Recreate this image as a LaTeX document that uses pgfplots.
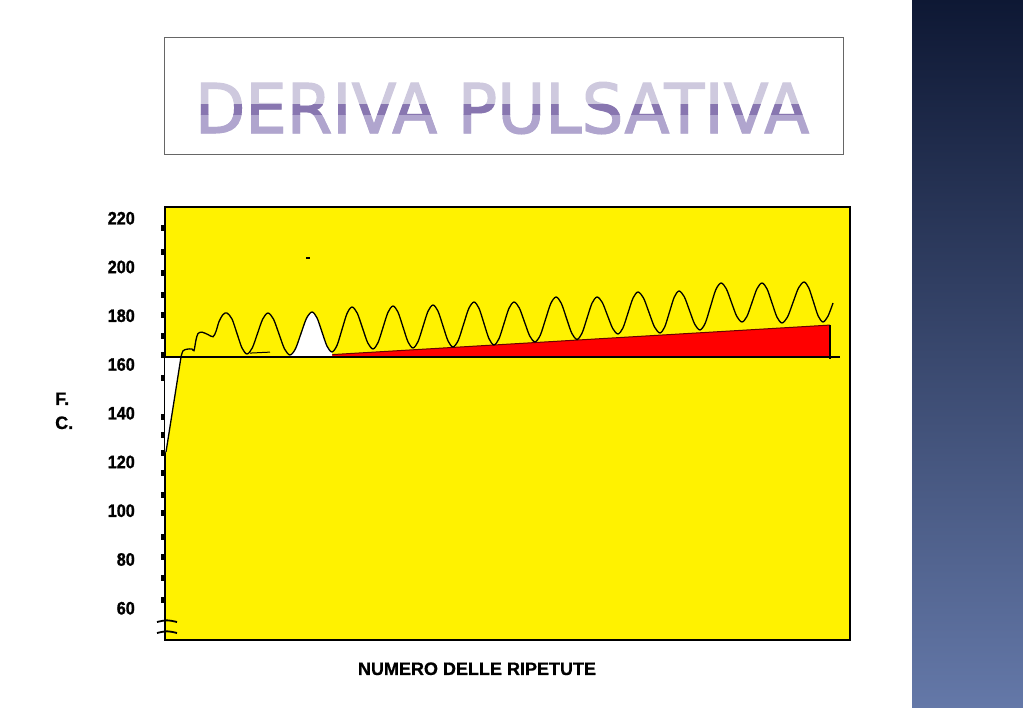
\documentclass[border=0pt]{standalone}
\usepackage{fontspec}
\setmainfont{Liberation Sans}
\newfontfamily\tickfont[FakeStretch=0.9, BoldFeatures={FakeBold=1.2}]{Liberation Sans}
\newfontfamily\labfont[BoldFeatures={FakeBold=0.8}]{Liberation Sans}
\newfontfamily\titlefont[FakeStretch=0.955, FakeBold=1.6]{DejaVu Sans}
\usepackage{pgfplots}
\pgfplotsset{compat=1.18}
\definecolor{titlelight}{RGB}{206,201,222}
\definecolor{titlemid}{RGB}{176,165,206}
\definecolor{titledark}{RGB}{136,118,176}
\definecolor{paneltop}{RGB}{14,24,52}
\definecolor{panelmid}{RGB}{52,70,112}
\definecolor{panelbot}{RGB}{100,120,168}
\newcommand{\titletext}{\titlefont\fontsize{68.6}{70}\selectfont DERIVA PULSATIVA}
\begin{document}
\begin{tikzpicture}
\path[use as bounding box] (0pt,0pt) rectangle (1023pt,708pt);
\fill[white] (0pt,0pt) rectangle (1023pt,708pt);
% right panel
\shade[top color=paneltop, middle color=panelmid, bottom color=panelbot] (912pt,0pt) rectangle (1023pt,708pt);
% title box
\draw[gray!80!black, line width=0.9pt] (164pt,554pt) rectangle (843pt,671pt);
\node[anchor=base, inner sep=0pt, text=titlelight] at (502pt,575pt) {\titletext};
\begin{scope}
\clip (150pt,560pt) rectangle (860pt,593.5pt);
\node[anchor=base, inner sep=0pt, text=titlemid] at (502pt,575pt) {\titletext};
\end{scope}
\begin{scope}
\clip (150pt,593.5pt) rectangle (860pt,603.4pt);
\node[anchor=base, inner sep=0pt, text=titledark] at (502pt,575pt) {\titletext};
\end{scope}
% axis labels
\node[anchor=base west, inner sep=0pt, font=\labfont\bfseries\fontsize{18}{18}\selectfont] at (55pt,303pt) {F.};
\node[anchor=base west, inner sep=0pt, font=\labfont\bfseries\fontsize{18}{18}\selectfont] at (55pt,279pt) {C.};
\node[anchor=base, inner sep=0pt, font=\labfont\bfseries\fontsize{18}{18}\selectfont] at (477pt,33pt) {NUMERO DELLE RIPETUTE};
\begin{axis}[
  at={(165pt,68pt)}, anchor=south west, scale only axis,
  width=685pt, height=433pt,
  xmin=0, xmax=685, ymin=43.9, ymax=221.54,
  axis background/.style={fill=yellow},
  axis line style={black, line width=1.6pt},
  xtick=\empty,
  tick pos=left,
  ytick={60,80,...,220},
  major tick length=0pt,
  yticklabel style={font=\tickfont\bfseries\fontsize{18}{18}\selectfont, anchor=east, inner sep=0pt, xshift=-30pt, yshift=-7.5pt},
  /pgf/number format/assume math mode=true,
  clip=false,
]
% red drift area
\addplot[fill=red, draw=none, forget plot] coordinates {(143,160) (665,160) (665,173.1) (143,160.4)};
\addplot[black!60!red, line width=1pt, forget plot] coordinates {(128,160.1) (143,160.4) (665,173.1)};
% left white wedge
\addplot[fill=white, draw=none, forget plot] coordinates {(0,160) (16,160) (1,121) (0,121)};
% white area under the third beat
\addplot[fill=white, draw=none, forget plot] coordinates {(125,160.82) (130.5,163.40) (136,169.64) (141.5,175.88) (147,178.46) (152,176.06) (157,170.26) (162,164.45) (167,162.05) (167,160) (125,160)};
% heart-rate wave
\addplot[black, line width=1.3pt, smooth, tension=0.5, forget plot] coordinates {
(16,160) (18,162.5) (22,163.2) (27,163.3) (29,162.6) (31,167) (33,169.6) (37,170.2) (43,169.2) (48,168.3) (51,170.5) (54,174.5) (58,177.4) (62,178.05)
(67,175.59) (72,169.64) (77,163.69) (82,161.23) (87.25,163.69) (92.5,169.64) (97.75,175.59) (103,178.05)
(108.5,175.53) (114,169.44) (119.5,163.34) (125,160.82) (130.5,163.40) (136,169.64) (141.5,175.88) (147,178.46)
(152,176.06) (157,170.26) (162,164.45) (167,162.05) (172,164.75) (177,171.28) (182,177.81) (187,180.51)
(192.25,177.99) (197.5,171.90) (202.75,165.80) (208,163.28) (213,165.86) (218,172.10) (223,178.34) (228,180.92)
(233,178.40) (238,172.31) (243,166.21) (248,163.69) (253,166.27) (258,172.51) (263,178.75) (268,181.33)
(273,178.81) (278,172.72) (283,166.62) (288,164.10) (293.25,166.80) (298.5,173.33) (303.75,179.86) (309,182.56)
(314,179.98) (319,173.74) (324,167.50) (329,164.92) (334,167.50) (339,173.74) (344,179.98) (349,182.56)
(354.25,180.16) (359.5,174.38) (364.75,168.60) (370,166.2) (375.25,168.90) (380.5,175.41) (385.75,181.92) (391,184.62)
(396.25,182.07) (401.5,175.91) (406.75,169.75) (412,167.2) (417,169.75) (422,175.91) (427,182.07) (432,184.62)
(437.25,182.40) (442.5,177.03) (447.75,171.66) (453,169.44) (458,171.96) (463,178.06) (468,184.15) (473,186.67)
(478.5,184.21) (484,178.26) (489.5,172.31) (495,169.85) (499.75,172.37) (504.5,178.47) (509.25,184.56) (514,187.08)
(519.25,184.74) (524.5,179.08) (529.75,173.42) (535,171.08) (540.25,173.90) (545.5,180.72) (550.75,187.54) (556,190.36)
(561.25,188.02) (566.5,182.36) (571.75,176.70) (577,174.36) (582,176.70) (587,182.36) (592,188.02) (597,190.36)
(602,187.96) (607,182.16) (612,176.35) (617,173.95) (622.5,176.41) (628,182.36) (633.5,188.31) (639,190.77)
(643.75,188.37) (648.5,182.57) (653.25,176.76) (658,174.36) (663,176.76) (668,182.15)};
% initial rise
\addplot[black, line width=1.3pt, forget plot] coordinates {(1,121) (16,160)};
% reference line at 160
\addplot[black, line width=1.5pt, forget plot] coordinates {(0,160) (675,160)};
% right end marker
\addplot[black, line width=2.2pt, forget plot] coordinates {(665,173.1) (665,159.2)};
% small stray segments
\addplot[black, line width=1pt, forget plot] coordinates {(85,161.6) (105,162.0)};
\addplot[black, line width=2pt, forget plot] coordinates {(141,200.6) (145,200.6)};
% dashed tick marks along the y axis
\addplot[black, only marks, mark=|, mark size=2.8pt, mark options={line width=2.4pt}, forget plot] coordinates {
(-2.6,212.92) (-2.6,203.08) (-2.6,194.46) (-2.6,185.44) (-2.6,177.23) (-2.6,168.62) (-2.6,160.82) (-2.6,151.38)
(-2.6,135.38) (-2.6,128.0) (-2.6,120.62) (-2.6,112.41) (-2.6,103.38) (-2.6,96.0) (-2.6,86.15) (-2.6,77.95) (-2.6,69.33) (-2.6,60.31)};
% axis break marks
\draw[black, line width=1.8pt] (axis cs:-8,51.28) .. controls (axis cs:2,52.2) .. (axis cs:12,51.28);
\draw[black, line width=1.8pt] (axis cs:-8,46.77) .. controls (axis cs:2,47.7) .. (axis cs:12,46.77);
\end{axis}
\end{tikzpicture}
\end{document}
